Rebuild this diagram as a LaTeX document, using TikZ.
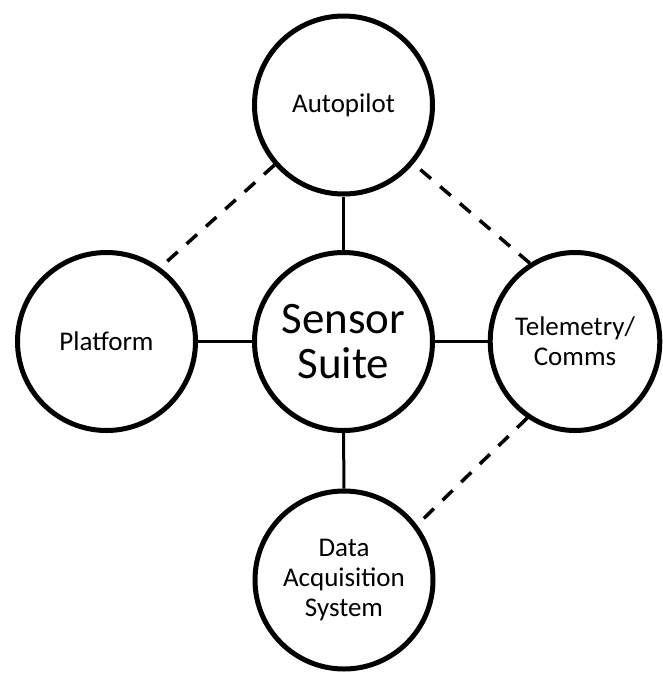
\documentclass[tikz,border=0pt]{standalone}
\usepackage{fontspec}
\setmainfont{Carlito}
\usetikzlibrary{shapes.geometric}
\begin{document}
\begin{tikzpicture}[x=1pt, y=-1pt,
  krog/.style={circle, draw=black, line width=5pt, fill=white, minimum size=178pt,
    inner sep=0pt, align=center, font=\fontsize{27}{30}\selectfont},
  crta/.style={line width=3pt},
  crtkano/.style={line width=3.5pt, dash pattern=on 14pt off 12pt}]
  \useasboundingbox (0, 0) rectangle (663, 673);
  % krogi
  \node [krog] (A) at (343.5, 105) {Autopilot};
  \node [krog, font=\fontsize{45}{45}\selectfont] (S) at (343.5, 341.5) {Sensor\\Suite};
  \node [krog] (P) at (106.5, 341.5) {Platform};
  \node [krog, ellipse, minimum width=169pt, minimum height=178pt] (T) at (575, 341.5) {Telemetry/\\Comms};
  \node [krog] (D) at (344, 580) {Data\\Acquisition\\System};
  % povezave
  \draw [crta] (A) -- (S);
  \draw [crta] (P) -- (S);
  \draw [crta] (S) -- (T);
  \draw [crta] (S) -- (D);
  % crtkane povezave
  \draw [crtkano] (A.221.8) -- (P.54.5);
  \draw [crtkano] (T.120.9) -- (A.320.3);
  \draw [crtkano] (T.238.5) -- (D.37.7);
\end{tikzpicture}
\end{document}
